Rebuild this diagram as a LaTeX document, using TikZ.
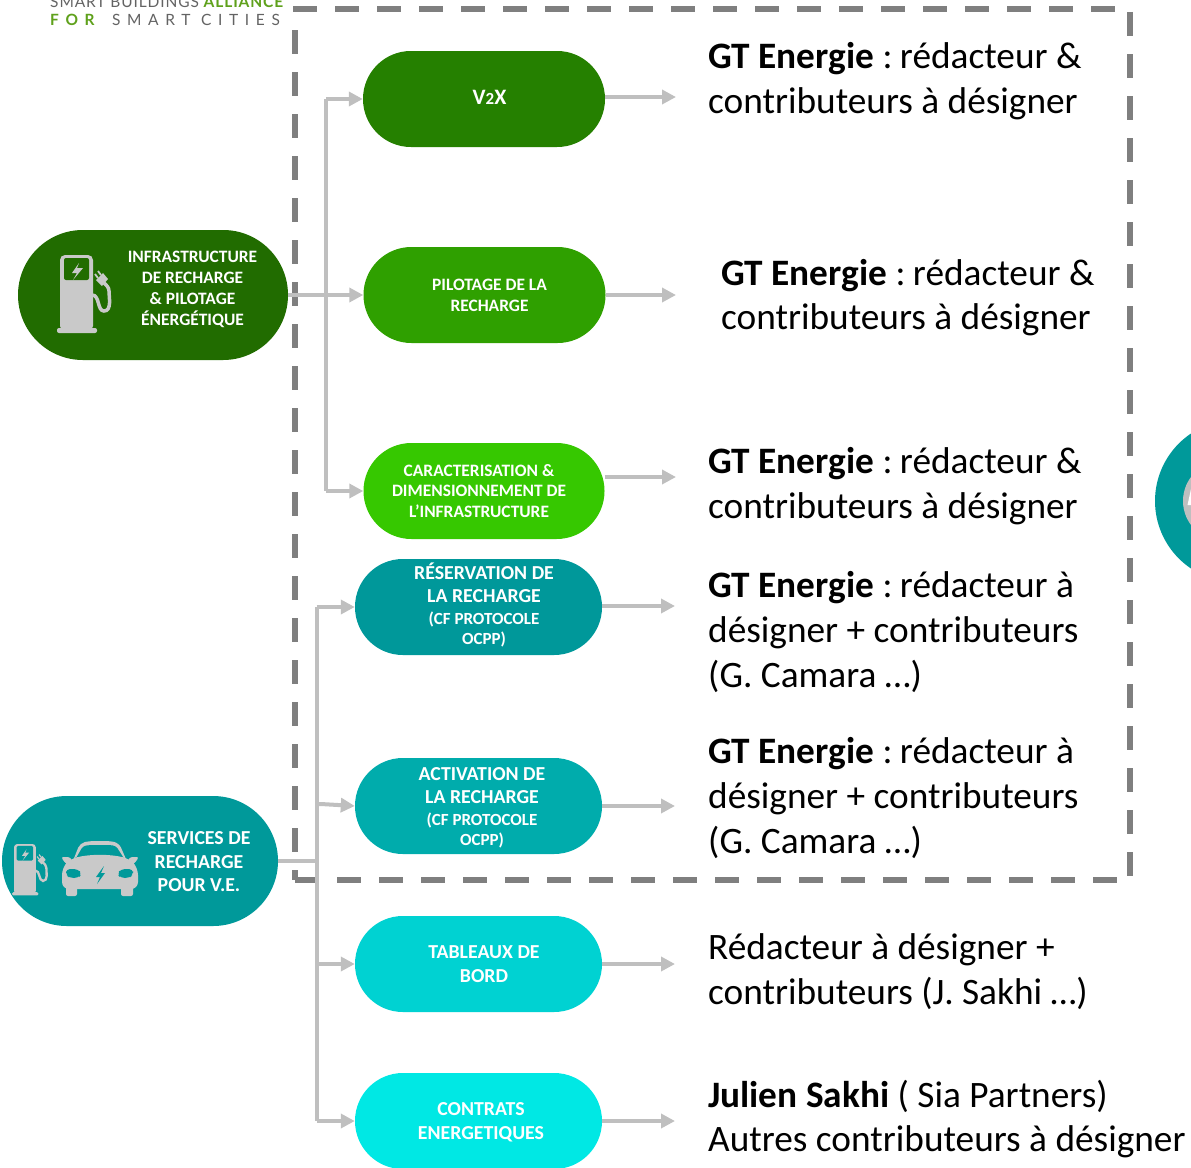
\documentclass[tikz,border=0pt]{standalone}
\usepackage{fontspec}
\setmainfont{Carlito}
\newfontfamily\logofont{Lato}
\usetikzlibrary{arrows.meta}
\definecolor{cdash}{HTML}{7F7F7F}
\definecolor{cline}{HTML}{BFBFBF}
\definecolor{cicon}{HTML}{C9C9C9}
\definecolor{cinfra}{HTML}{216C00}
\definecolor{cserv}{HTML}{00999A}
\definecolor{cvtox}{HTML}{258000}
\definecolor{cpilot}{HTML}{2FA000}
\definecolor{ccarac}{HTML}{36C800}
\definecolor{cresa}{HTML}{00989A}
\definecolor{cacti}{HTML}{00ACAC}
\definecolor{ctabl}{HTML}{00D2D2}
\definecolor{ccont}{HTML}{00E8E4}
\definecolor{clogog}{HTML}{5FA11C}
\definecolor{clogot}{HTML}{636363}
\tikzset{
  pill/.style={draw=none,fill=#1,rounded corners=47.9pt,minimum width=242pt,minimum height=96pt,inner sep=0pt},
  bigpill/.style={draw=none,fill=#1,rounded corners=64.9pt,minimum height=130pt,inner sep=0pt},
  pilltext/.style={text=white,align=center,inner sep=0pt,font=\fontsize{17.4}{20.8}\selectfont\bfseries},
  pilltextb/.style={text=white,align=center,inner sep=0pt,font=\fontsize{19.8}{23.5}\selectfont\bfseries},
  desc/.style={anchor=west,align=left,inner sep=0pt,font=\fontsize{37.3}{44.6}\selectfont},
  conn/.style={draw=cline,line width=4pt},
  arr/.style={conn,-{Triangle[length=14pt,width=14pt]}},
  frame/.style={draw=cdash,line width=5.5pt,dash pattern=on 24pt off 18pt}
}
\newcommand{\smallcaps}[1]{{\fontsize{17}{20}\selectfont #1}}
\newcommand{\gtc}{\ :\kern-1pt\ }
\newcommand{\drawpump}[4]{%
\begin{scope}[shift={(#1,#2)},scale=#3]
  \fill[cicon,rounded corners=#3*5pt] (0,0) rectangle (33,76);
  \fill[cicon,rounded corners=#3*2pt] (-3,73) rectangle (37,78);
  \fill[#4,rounded corners=#3*2pt] (4,3) rectangle (29,25);
  \fill[cicon] (19,8) -- (12,18) -- (17,18) -- (13,25) -- (23,13) -- (17,13) -- cycle;
  \draw[cicon,line width=#3*3.5pt] (32,40) .. controls (40,40) and (37,56) .. (44,56) .. controls (52,56) and (49,42) .. (49,36) .. controls (49,32) and (46,30) .. (43,27);
  \fill[cicon] (36,25) -- (43,18) -- (48,24) -- (42,31) -- cycle;
  \draw[cicon,line width=#3*1.8pt] (38,23) -- (35,19) (41,20) -- (38,16);
\end{scope}}
\begin{document}
\begin{tikzpicture}[x=1pt,y=-1pt]
\useasboundingbox (0,0) rectangle (1191,1167);
\clip (0,0) rectangle (1191,1167);
% frame
\coordinate (ftl) at (293,9);
\coordinate (ftr) at (1130,9);
\coordinate (fbr) at (1130,880);
\coordinate (fbl) at (295,880);
\coordinate (fltop) at (295,30);
\draw[frame] (ftl) -- (ftr) -- (fbr);
\draw[frame] (fbl) -- (fbr);
\draw[frame] (fltop) -- (fbl);
% logo
\node[anchor=base west,inner sep=0pt,text=clogot,font=\logofont\fontsize{15.5}{16}\selectfont\addfontfeature{LetterSpace=5.7}] (logoa) at (50,7.5) {SMART BUILDINGS \textcolor{clogog}{\textbf{ALLIANCE}}};
\node[anchor=base west,inner sep=0pt,text=clogot,font=\logofont\fontsize{15.5}{16}\selectfont\addfontfeature{LetterSpace=43}] (logob) at (50,25) {\textcolor{clogog}{\textbf{FOR}} SMART CITIES};
% source pills
\node[bigpill=cinfra,minimum width=270pt] (infra) at (153,295) {};
\node[bigpill=cserv,minimum width=276pt] (serv) at (140,861) {};
% right partial circle
\node[circle,fill=cserv,minimum size=162.6pt,inner sep=0pt] (rc) at (1236.3,501) {};
\node[circle,fill=cline,minimum size=80pt,inner sep=0pt] (rci) at (1223,501) {};
\fill[white] (1191,489) -- (1187.5,505) -- (1191,505) -- cycle;
% pills
\node[pill=cvtox] (vtox) at (484,99) {};
\node[pill=cpilot] (pilot) at (484.5,295) {};
\node[pill=ccarac,minimum width=241pt] (carac) at (484,491) {};
\node[pill=cresa,minimum width=247pt] (resa) at (478.5,607) {};
\node[pill=cacti,minimum width=247pt] (acti) at (478.5,806) {};
\node[pill=ctabl,minimum width=247pt] (tabl) at (478.5,964) {};
\node[pill=ccont,minimum width=247pt] (cont) at (478.5,1121) {};
% pill texts
\node[pilltext] (tinfra) at (192.5,289.5) {INFRASTRUCTURE\\DE RECHARGE\\\& PILOTAGE\\ÉNERGÉTIQUE};
\node[pilltextb] (tserv) at (199,862) {SERVICES DE\\RECHARGE\\POUR V.E.};
\node[pilltext,font=\fontsize{22}{22}\selectfont\bfseries] (tvtox) at (489.5,97) {V{\fontsize{17}{17}\selectfont 2}X};
\node[pilltext] (tpilot) at (489.5,295.5) {PILOTAGE DE LA\\RECHARGE};
\node[pilltext] (tcarac) at (479,491) {CARACTERISATION \&\\DIMENSIONNEMENT DE\\L’INFRASTRUCTURE};
\node[pilltextb] (tresa) at (484,605) {RÉSERVATION DE\\LA RECHARGE\\[-2pt]\smallcaps{(CF PROTOCOLE}\\[-3pt]\smallcaps{OCPP)}};
\node[pilltextb] (tacti) at (482,808) {ACTIVATION DE\\LA RECHARGE\\[-2pt]\smallcaps{(CF PROTOCOLE}\\[-3pt]\smallcaps{OCPP)}};
\node[pilltextb] (ttabl) at (484,964) {TABLEAUX DE\\BORD};
\node[pilltextb] (tcont) at (481,1122) {CONTRATS\\ENERGETIQUES};
% connectors
\coordinate (uj) at (326,295);
\coordinate (lj) at (316.5,861);
\coordinate (ak) at (321,804);
\draw[conn] (vtox.west -| uj) -- (carac.west -| uj);
\draw[arr] (vtox.west -| uj) -- (vtox.west);
\draw[arr] (infra.east) -- (pilot.west);
\draw[arr] (carac.west -| uj) -- (carac.west);
\draw[conn] (serv.east) -- (lj);
\draw[conn] (resa.west -| lj) -- (cont.west -| lj);
\draw[arr] (resa.west -| lj) -- (resa.west);
\draw[arr] (ak -| lj) -- (ak) -- (acti.west);
\draw[arr] (tabl.west -| lj) -- (tabl.west);
\draw[arr] (cont.west -| lj) -- (cont.west);
% descriptions
\node[desc] (dvtox) at (708,81) {\textbf{GT Energie}\gtc rédacteur \&\\contributeurs à désigner};
\node[desc] (dpilot) at (721,297.5) {\textbf{GT Energie}\gtc rédacteur \&\\contributeurs à désigner};
\node[desc] (dcarac) at (708,486) {\textbf{GT Energie}\gtc rédacteur \&\\contributeurs à désigner};
\node[desc] (dresa) at (708,632) {\textbf{GT Energie}\gtc rédacteur à\\désigner + contributeurs\\(G. Camara …)};
\node[desc] (dacti) at (708,798) {\textbf{GT Energie}\gtc rédacteur à\\désigner + contributeurs\\(G. Camara …)};
\node[desc] (dtabl) at (708,971.5) {Rédacteur à désigner +\\contributeurs (J. Sakhi …)};
\node[desc] (dcont) at (708,1119) {\textbf{Julien Sakhi} ( Sia Partners)\\Autres contributeurs à désigner};
% right arrows
\coordinate (avtox) at (676,97);
\coordinate (apilot) at (676,295);
\coordinate (acarac) at (676,477);
\coordinate (aresa) at (675,606);
\coordinate (aacti) at (675,806);
\coordinate (atabl) at (675,964);
\coordinate (acont) at (675,1121);
\draw[arr] (vtox.east |- avtox) -- (avtox);
\draw[arr] (pilot.east) -- (apilot);
\draw[arr] (carac.east |- acarac) -- (acarac);
\draw[arr] (resa.east |- aresa) -- (aresa);
\draw[arr] (acti.east |- aacti) -- (aacti);
\draw[arr] (tabl.east) -- (atabl);
\draw[arr] (cont.east) -- (acont);
% icons
\drawpump{60}{255}{1}{cinfra}
\drawpump{14}{844}{0.66}{cserv}
% car
\fill[cicon,rounded corners=5pt] (71,866) -- (80,843) -- (90,841) -- (110,841) -- (119,843) -- (129,866) -- cycle;
\fill[cserv,rounded corners=3pt] (75,860) -- (83,846) -- (90,845) -- (110,845) -- (116,846) -- (125,860) .. controls (110,856) and (90,856) .. (75,860) -- cycle;
\fill[cicon,rounded corners=2.5pt] (61,857) -- (70,857) -- (74,864) -- (66,864) -- cycle;
\fill[cicon,rounded corners=2.5pt] (139,857) -- (130,857) -- (126,864) -- (134,864) -- cycle;
\fill[cicon,rounded corners=7pt] (70,859) .. controls (90,854) and (110,854) .. (130,859) -- (138,868) -- (138,889) -- (62,889) -- (62,868) -- cycle;
\fill[cicon,rounded corners=2pt] (66,885) rectangle (77,896);
\fill[cicon,rounded corners=2pt] (121,885) rectangle (133,896);
\fill[cserv,rounded corners=4pt] (66,869) -- (78,869) -- (82,874) -- (78,878) -- (70,878) -- (66,875) -- cycle;
\fill[cserv,rounded corners=4pt] (133,869) -- (121,869) -- (117,874) -- (121,878) -- (129,878) -- (133,875) -- cycle;
\fill[cserv] (104,866) -- (96,877) -- (100,877) -- (97,884) -- (105,873) -- (101,873) -- cycle;
\end{tikzpicture}
\end{document}
